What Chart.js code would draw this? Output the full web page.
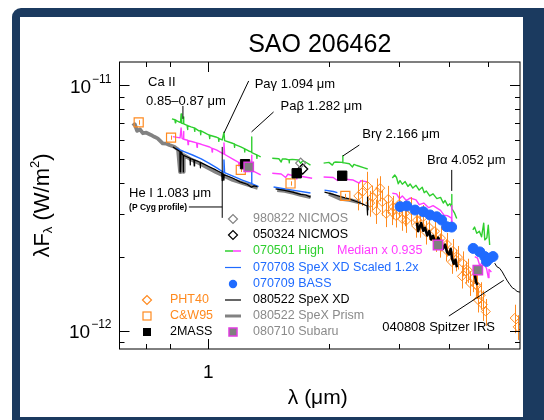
<!DOCTYPE html>
<html lang="en">
<head>
<meta charset="UTF-8">
<title>SAO 206462</title>
<script src="https://cdn.jsdelivr.net/npm/chart.js"></script>
<style>
  body { margin: 0; background: #fff; }
  #wrap { position: relative; width: 544px; height: 420px; overflow: hidden; }
  #frame { position: absolute; left: 12px; top: 8px; width: 560px; height: 440px; background: #1b3a5f; border-radius: 9px; }
  #panel { position: absolute; left: 20px; top: 17px; width: 503px; height: 400px; background: #fff; }
  #sed { position: absolute; left: 0; top: 0; }
</style>
</head>
<body>
<div id="wrap">
  <div id="frame"></div>
  <div id="panel"></div>
  <canvas id="sed" width="544" height="420"></canvas>
</div>
<script>
// all fluxes are in units of 1e-12 W/m^2, wavelengths in micron
const FLUX_UNIT = 1e-12;

// 070501 High (green), one array per atmospheric window
const highSegs = [
  [[0.811,7.31],[0.825,7.25],[0.827,7.05],[0.829,7.23],[0.835,7.18],[0.852,7.06],[0.855,7.65],[0.858,7.02],[0.866,7.00],[0.867,7.45],[0.869,6.98],[0.885,6.88],[0.887,6.62],[0.889,6.86],[0.905,6.78],[0.922,6.72],[0.924,6.50],[0.926,6.70],[0.947,6.53],[0.955,6.55],[0.957,6.30],[0.959,6.53],[0.991,6.35],[1.005,6.28],[1.007,6.08],[1.009,6.27],[1.044,6.17],[1.06,6.10],[1.062,5.92],[1.064,6.08],[1.083,6.00],[1.094,6.45],[1.098,5.96],[1.144,5.83],[1.16,5.78],[1.162,5.60],[1.164,5.76],[1.205,5.62],[1.23,5.53],[1.232,5.36],[1.234,5.52],[1.261,5.41],[1.280,5.36],[1.282,6.17],[1.285,5.33],[1.30,5.28],[1.32,5.22],[1.322,5.05],[1.324,5.21],[1.351,5.12]],
  [[1.444,5.05],[1.50,5.03],[1.52,4.88],[1.53,5.02],[1.559,5.02],[1.59,4.98],[1.592,4.84],[1.594,4.98],[1.62,5.00],[1.679,4.97],[1.70,4.82],[1.72,4.93],[1.748,4.88],[1.799,4.74]],
  [[1.94,4.83],[2.00,4.86],[2.04,4.74],[2.06,4.86],[2.08,4.88],[2.164,4.86],[2.166,5.18],[2.168,4.85],[2.25,4.80],[2.29,4.66],[2.31,4.77],[2.35,4.72],[2.45,4.62],[2.50,4.57]],
  [[2.88,4.20],[2.92,4.32],[2.95,4.22],[2.98,3.98],[3.01,4.10],[3.05,3.96],[3.10,4.06],[3.15,3.88],[3.19,3.97],[3.24,3.82],[3.30,3.92],[3.36,3.75],[3.42,3.85],[3.46,3.66],[3.50,3.72],[3.57,3.55],[3.64,3.62],[3.72,3.46],[3.80,3.50],[3.86,3.32],[3.90,3.40],[3.96,3.24],[4.01,3.30],[4.048,3.20],[4.052,3.60],[4.056,3.15],[4.12,3.02],[4.17,2.87]],
  [[4.575,2.58],[4.62,2.65],[4.68,2.50],[4.75,2.55],[4.81,2.42],[4.87,2.75],[4.90,2.35],[4.96,2.40],[5.00,2.70],[5.04,2.24]]
];

// Median x 0.935 (magenta)
const medianSegs = [
  [[0.815,6.19],[0.850,6.12],[0.855,6.71],[0.860,6.09],[0.866,6.05],[0.867,6.50],[0.869,6.04],[0.888,5.98],[0.890,5.74],[0.892,5.96],[0.913,5.90],[0.935,5.84],[0.937,5.60],[0.939,5.82],[0.96,5.76],[1.003,5.63],[1.02,5.55],[1.022,5.36],[1.024,5.54],[1.05,5.45],[1.090,5.27],[1.094,5.83],[1.098,5.24],[1.105,5.21],[1.16,4.98],[1.19,4.86],[1.192,4.70],[1.194,4.85],[1.216,4.74],[1.250,4.64],[1.252,4.48],[1.254,4.63],[1.280,4.53],[1.282,5.20],[1.285,4.51],[1.351,4.32]],
  [[1.444,4.39],[1.52,4.36],[1.56,4.22],[1.58,4.35],[1.604,4.32],[1.66,4.30],[1.662,4.16],[1.664,4.29],[1.70,4.27],[1.816,4.19]],
  [[1.94,4.24],[2.05,4.22],[2.10,4.10],[2.12,4.20],[2.164,4.17],[2.166,4.40],[2.168,4.16],[2.30,4.12],[2.38,4.00],[2.40,4.09],[2.50,4.05]],
  [[2.88,3.64],[2.95,3.62],[3.00,3.46],[3.05,3.55],[3.12,3.40],[3.19,3.48],[3.30,3.42],[3.36,3.27],[3.45,3.32],[3.55,3.18],[3.64,3.24],[3.80,3.10],[3.88,2.96],[3.95,2.95],[4.048,2.88],[4.052,3.24],[4.056,2.84],[4.057,2.55],[4.062,2.82]],
  [[4.627,2.01],[4.70,1.98],[4.76,1.85],[4.845,1.91],[4.95,1.80],[5.00,1.65],[5.02,1.78],[5.09,1.74]]
];

// 070708 SpeX XD scaled 1.2x (blue line)
const scaledSegs = [
  [[0.830,5.56],[0.870,5.38],[0.913,5.21],[0.96,5.02],[1.003,4.83],[1.05,4.62],[1.090,4.43],[1.094,4.97],[1.098,4.41],[1.105,4.40],[1.16,4.25],[1.216,4.12],[1.280,3.99],[1.282,4.61],[1.285,3.98],[1.335,3.87]],
  [[1.455,3.86],[1.623,3.75],[1.799,3.65]],
  [[1.95,3.75],[2.05,3.70],[2.10,3.66]]
];

// 080522 SpeX XD (black line)
const spexSegs = [
  [[0.816,5.62],[0.84,5.45],[0.849,5.38],[0.850,4.45],[0.851,5.37],[0.853,5.36],[0.854,4.50],[0.855,5.35],[0.863,5.21],[0.865,5.20],[0.866,4.45],[0.867,5.19],[0.88,5.14],[0.90,5.05],[0.901,4.75],[0.902,5.04],[0.92,4.98],[0.922,4.70],[0.924,4.97],[0.947,4.89],[0.954,4.87],[0.955,4.62],[0.956,4.86],[1.005,4.67],[1.044,4.53],[1.08,4.40],[1.083,4.10],[1.086,4.38],[1.093,4.33],[1.094,4.12],[1.095,4.33],[1.149,4.20],[1.20,4.05],[1.25,3.96],[1.282,3.85],[1.30,3.90],[1.326,3.87]],
  [[1.472,3.79],[1.55,3.74],[1.623,3.68],[1.70,3.60],[1.75,3.58],[1.80,3.51]],
  [[1.95,3.68],[2.05,3.60],[2.15,3.52],[2.25,3.45],[2.35,3.36],[2.45,3.27],[2.49,3.23],[2.495,2.97],[2.50,3.51],[2.505,3.10]],
  [[3.32,2.76],[3.34,2.55],[3.36,2.62],[3.40,2.75],[3.44,2.56],[3.475,2.63],[3.52,2.45],[3.56,2.55],[3.60,2.36],[3.639,2.44],[3.70,2.26],[3.75,2.40],[3.787,2.30],[3.85,2.16],[3.90,2.25],[3.943,2.10],[3.99,2.05],[4.03,2.16],[4.057,1.98],[4.10,1.88],[4.14,1.95],[4.174,1.82]],
  [[4.63,1.69],[4.66,1.58],[4.70,1.54]]
];

// 080522 SpeX Prism (thick grey)
const prismSegs = [
  [[0.648,6.84],[0.655,6.95],[0.664,6.53],[0.675,6.62],[0.686,6.39],[0.70,6.42],[0.719,6.29],[0.733,6.18],[0.747,6.09],[0.758,5.95],[0.769,5.81],[0.785,5.80],[0.799,5.72],[0.822,5.63],[0.840,5.48],[0.850,4.44],[0.852,5.38],[0.854,4.55],[0.856,5.35],[0.866,4.45],[0.868,5.20],[0.90,5.02],[0.947,4.83],[1.044,4.44],[1.151,4.12],[1.328,3.83]],
  [[1.486,3.75],[1.55,3.72],[1.632,3.65],[1.70,3.58],[1.80,3.51]],
  [[2.00,3.62],[2.14,3.45],[2.25,3.42],[2.40,3.33]]
];

// 040808 Spitzer IRS
const irsSegs = [
  [[5.189,1.89],[5.25,1.83],[5.34,1.80],[5.42,1.74],[5.495,1.67],[5.58,1.60],[5.655,1.55],[5.74,1.50],[5.819,1.48],[5.90,1.45],[5.99,1.44],[6.1,1.40]]
];

// 070709 BASS
const bassWl   = [3.012,3.13,3.282,3.441,3.576,3.716,3.824,3.936,4.05,4.584,4.762,4.90,4.95,5.042,5.138];
const bassFlux = [3.21,3.23,3.11,3.06,2.97,2.92,2.83,2.66,2.65,2.17,2.10,2.01,1.92,1.98,2.01];

// 080710 Subaru
const subaruWl   = [1.261,3.745,4.708];
const subaruFlux = [4.66,2.24,1.77];

// 2MASS
const twomassWl   = [1.235,1.662,2.159];
const twomassFlux = [4.78,4.39,4.29];

// NICMOS
const nic98Wl = [1.70];
const nic98Flux = [4.83];
const nic05Wl = [1.72];
const nic05Flux = [4.57];

// C&W95
const cwWl   = [0.670,0.807,1.205,1.604,2.198];
const cwFlux = [7.07,6.13,4.53,3.99,3.55];
const cwErr  = [0.15,0.12,0.09,0.08,0.07];

// PHT40
const phtWl   = [2.423,2.494,2.566,2.640,2.717,2.812,2.894,2.995,3.099,3.208,3.320,3.437,3.556,3.680,3.809,3.943,4.080,4.200,4.321,4.446,4.575,4.682,4.790,4.845,2.626,2.780,2.944,3.117,3.302,3.495,3.703,3.920,4.152,4.396,4.655,5.819,5.92,2.368,2.536,2.686,2.877,3.047,3.377,3.787,4.057,4.297,4.497,4.708,4.929];
const phtFlux = [3.68,3.90,3.51,3.68,3.35,3.45,3.20,3.29,3.02,3.11,2.83,2.91,2.65,2.55,2.39,2.26,2.12,2.00,1.89,1.77,1.64,1.53,1.40,1.28,3.08,3.00,2.94,2.81,2.68,2.53,2.35,2.14,1.95,1.74,1.54,1.13,1.04,3.55,3.32,3.82,3.05,2.86,2.70,2.24,1.91,1.67,1.57,1.34,1.20];
const phtErr  = [0.45,0.55,0.40,0.50,0.40,0.45,0.35,0.40,0.35,0.40,0.30,0.35,0.30,0.30,0.28,0.25,0.25,0.22,0.22,0.20,0.20,0.18,0.18,0.18,0.35,0.35,0.30,0.30,0.28,0.28,0.25,0.22,0.20,0.18,0.18,0.15,0.12,0.45,0.40,0.45,0.35,0.30,0.30,0.25,0.20,0.18,0.18,0.15,0.15];

// axes
const xTicks = [0.7, 0.8, 1, 2, 3, 4, 5];
const yTicks = [0.9, 1, 2, 3, 4, 5, 6, 7, 8, 9, 10];
const xRange = [0.6, 6.0];
const yRange = [0.845, 12.46];

// text annotations: label, wavelength, flux
const notes = [
  ['Ca II', 0.707, 10.33],
  ['0.85\u20130.87 \u03bcm', 0.699, 8.65],
  ['Pa\u03b3 1.094 \u03bcm', 1.305, 10.14],
  ['Pa\u03b2 1.282 \u03bcm', 1.515, 8.25],
  ['Br\u03b3 2.166 \u03bcm', 2.423, 6.29],
  ['Br\u03b1 4.052 \u03bcm', 3.516, 4.97],
  ['He I 1.083 \u03bcm', 0.634, 3.65],
  ['040808 Spitzer IRS', 2.717, 1.038]
];
// pointer lines: wl1, flux1, wl2, flux2
const pointers = [
  [0.864, 8.25, 0.864, 7.31],
  [1.261, 10.43, 1.094, 6.40],
  [1.455, 7.80, 1.282, 6.47],
  [2.382, 5.72, 2.166, 5.16],
  [4.052, 4.53, 4.052, 3.72],
  [1.083, 5.62, 1.083, 2.89],
  [0.894, 3.20, 1.083, 3.20],
  [3.987, 1.151, 5.465, 1.61]
];

const FONT = '"Liberation Sans", Arial, Helvetica, sans-serif';
const GREEN = '#2fcf2f', MAGENTA = '#ff3cff', BLUE = '#1f6bff', ORANGE = '#ff8a1f';
const GRAY = '#828282', GRAYTXT = '#8a8a8a';

function segPoints(segs) {
  const out = [];
  segs.forEach(function (seg, i) {
    if (i > 0) out.push({ x: seg[0][0], y: null });
    seg.forEach(function (p) { out.push({ x: p[0], y: p[1] * FLUX_UNIT }); });
  });
  return out;
}
function markPoints(wl, fl) {
  return wl.map(function (w, i) { return { x: w, y: fl[i] * FLUX_UNIT }; });
}
function spectrum(label, segs, color, width) {
  return { label: label, data: segPoints(segs), showLine: true, borderColor: color, borderWidth: width,
    pointRadius: 0, spanGaps: false, tension: 0, borderJoinStyle: 'round' };
}
function symbols(label, wl, fl, style, r, fill, edge, bw) {
  return { label: label, data: markPoints(wl, fl), showLine: false, pointStyle: style, pointRadius: r,
    backgroundColor: fill, borderColor: edge, pointBorderWidth: bw, borderWidth: bw };
}

const spex = spectrum('080522 SpeX XD', spexSegs, '#000', 1.2);
spex.segment = { borderWidth: function (c) { return c.p0.parsed.x > 3 ? 2.6 : 1.2; } };

const pht = symbols('PHT40', phtWl, phtFlux, 'rectRot', 4.5, 'rgba(0,0,0,0)', ORANGE, 1);
pht.errors = phtErr;
const cw = symbols('C&W95', cwWl, cwFlux, 'rect', 6.4, 'rgba(0,0,0,0)', ORANGE, 1.2);
cw.errors = cwErr;

// first dataset is drawn on top
const datasets = [
  symbols('080710 Subaru', subaruWl, subaruFlux, 'rect', 6.6, '#7f7f7f', '#e03ce0', 1.5),
  symbols('2MASS', twomassWl, twomassFlux, 'rect', 6.6, '#000', '#000', 1),
  symbols('980822 NICMOS', nic98Wl, nic98Flux, 'rectRot', 5, 'rgba(255,255,255,0)', GRAY, 1.2),
  symbols('050324 NICMOS', nic05Wl, nic05Flux, 'rectRot', 5, 'rgba(255,255,255,0)', '#000', 1.3),
  cw,
  symbols('070709 BASS', bassWl, bassFlux, 'circle', 5, BLUE, BLUE, 1),
  spex,
  pht,
  spectrum('070708 SpeX XD Scaled 1.2x', scaledSegs, BLUE, 1.4),
  spectrum('Median x 0.935', medianSegs, MAGENTA, 1.4),
  spectrum('070501 High', highSegs, GREEN, 1.4),
  spectrum('080522 SpeX Prism', prismSegs, GRAY, 3.8),
  spectrum('040808 Spitzer IRS', irsSegs, '#000', 1)
];

function drawPower(ctx, exp, xRight, yMid) {
  ctx.textBaseline = 'middle';
  ctx.textAlign = 'left';
  ctx.font = '12px ' + FONT;
  const w2 = ctx.measureText(exp).width;
  ctx.font = '19px ' + FONT;
  const w1 = ctx.measureText('10').width;
  ctx.fillText('10', xRight - w2 - w1 - 1, yMid + 2);
  ctx.font = '12px ' + FONT;
  ctx.fillText(exp, xRight - w2, yMid - 6);
}

function legendMark(ctx, kind, x, y) {
  ctx.save();
  ctx.lineWidth = 1.2;
  if (kind === 'dGray' || kind === 'dBlack' || kind === 'dOrange') {
    ctx.strokeStyle = kind === 'dGray' ? GRAY : (kind === 'dBlack' ? '#000' : ORANGE);
    ctx.beginPath();
    ctx.moveTo(x - 4.5, y); ctx.lineTo(x, y - 4.5); ctx.lineTo(x + 4.5, y); ctx.lineTo(x, y + 4.5); ctx.closePath();
    ctx.stroke();
  } else if (kind === 'twoLine') {
    ctx.lineWidth = 1.5;
    ctx.strokeStyle = GREEN; ctx.beginPath(); ctx.moveTo(x - 8, y); ctx.lineTo(x, y); ctx.stroke();
    ctx.strokeStyle = MAGENTA; ctx.beginPath(); ctx.moveTo(x, y); ctx.lineTo(x + 8, y); ctx.stroke();
  } else if (kind === 'blueLine' || kind === 'blackLine' || kind === 'grayLine') {
    ctx.strokeStyle = kind === 'blueLine' ? BLUE : (kind === 'blackLine' ? '#000' : GRAY);
    ctx.lineWidth = kind === 'grayLine' ? 3 : 1.2;
    ctx.beginPath(); ctx.moveTo(x - 8, y); ctx.lineTo(x + 8, y); ctx.stroke();
  } else if (kind === 'dot') {
    ctx.fillStyle = BLUE; ctx.beginPath(); ctx.arc(x, y, 4.2, 0, Math.PI * 2); ctx.fill();
  } else if (kind === 'sqSubaru') {
    ctx.fillStyle = '#7f7f7f'; ctx.strokeStyle = '#e03ce0'; ctx.lineWidth = 1.5;
    ctx.fillRect(x - 4, y - 4, 8, 8); ctx.strokeRect(x - 4, y - 4, 8, 8);
  } else if (kind === 'sqOrange') {
    ctx.strokeStyle = ORANGE; ctx.strokeRect(x - 4, y - 4, 8, 8);
  } else if (kind === 'sqBlack') {
    ctx.fillStyle = '#000'; ctx.fillRect(x - 4, y - 4, 8, 8);
  }
  ctx.restore();
}

const sedDecor = {
  id: 'sedDecor',
  beforeDatasetDraw(chart, args) {
    const ds = chart.data.datasets[args.index];
    if (!ds.errors) return;
    const ctx = chart.ctx, x = chart.scales.x, y = chart.scales.y, a = chart.chartArea;
    ctx.save();
    ctx.beginPath(); ctx.rect(a.left, a.top, a.right - a.left, a.bottom - a.top); ctx.clip();
    ctx.strokeStyle = ds.borderColor; ctx.lineWidth = 1;
    ds.data.forEach(function (p, i) {
      const e = ds.errors[i] * FLUX_UNIT;
      const px = Math.round(x.getPixelForValue(p.x)) + 0.5;
      ctx.beginPath();
      ctx.moveTo(px, y.getPixelForValue(p.y + e));
      ctx.lineTo(px, y.getPixelForValue(p.y - e));
      ctx.stroke();
    });
    ctx.restore();
  },
  afterDraw(chart) {
    const ctx = chart.ctx, x = chart.scales.x, y = chart.scales.y, a = chart.chartArea;
    ctx.save();
    // frame and ticks on all four sides
    ctx.strokeStyle = '#000'; ctx.lineWidth = 1;
    ctx.strokeRect(a.left, a.top, a.right - a.left, a.bottom - a.top);
    ctx.beginPath();
    xTicks.forEach(function (v) {
      const px = Math.round(x.getPixelForValue(v)) + 0.5, len = v === 1 ? 10 : 5;
      ctx.moveTo(px, a.bottom); ctx.lineTo(px, a.bottom - len);
      ctx.moveTo(px, a.top); ctx.lineTo(px, a.top + len);
    });
    yTicks.forEach(function (v) {
      const py = Math.round(y.getPixelForValue(v * FLUX_UNIT)) + 0.5, len = (v === 1 || v === 10) ? 10 : 5;
      ctx.moveTo(a.left, py); ctx.lineTo(a.left + len, py);
      ctx.moveTo(a.right, py); ctx.lineTo(a.right - len, py);
    });
    ctx.stroke();

    // tick labels
    ctx.fillStyle = '#000';
    ctx.font = '19px ' + FONT; ctx.textAlign = 'center'; ctx.textBaseline = 'middle';
    ctx.fillText('1', x.getPixelForValue(1), a.bottom + 24);
    drawPower(ctx, '\u221211', a.left - 8, y.getPixelForValue(10 * FLUX_UNIT));
    drawPower(ctx, '\u221212', a.left - 8, y.getPixelForValue(1 * FLUX_UNIT));

    // title and axis titles
    ctx.textAlign = 'center'; ctx.textBaseline = 'middle';
    ctx.font = '25px ' + FONT;
    ctx.fillText('SAO 206462', (a.left + a.right) / 2, 45);
    ctx.font = '21px ' + FONT;
    ctx.fillText('\u03bb (\u03bcm)', (a.left + a.right) / 2 - 2, a.bottom + 49);

    ctx.save();
    ctx.translate(43, (a.top + a.bottom) / 2);
    ctx.rotate(-Math.PI / 2);
    const parts = [['\u03bbF', 22, 0], ['\u03bb', 13, 5], [' (W/m', 22, 0], ['2', 13, -8], [')', 22, 0]];
    let total = 0;
    parts.forEach(function (p) { ctx.font = p[1] + 'px ' + FONT; total += ctx.measureText(p[0]).width; });
    let cx = -total / 2;
    ctx.textAlign = 'left';
    parts.forEach(function (p) {
      ctx.font = p[1] + 'px ' + FONT;
      ctx.fillText(p[0], cx, p[2]);
      cx += ctx.measureText(p[0]).width;
    });
    ctx.restore();

    // annotations
    ctx.textAlign = 'left'; ctx.textBaseline = 'middle';
    ctx.font = '13px ' + FONT;
    notes.forEach(function (n) {
      ctx.fillText(n[0], x.getPixelForValue(n[1]), y.getPixelForValue(n[2] * FLUX_UNIT));
    });
    ctx.font = 'bold 8.5px ' + FONT;
    ctx.fillText('(P Cyg profile)', x.getPixelForValue(0.634), y.getPixelForValue(3.17 * FLUX_UNIT));
    ctx.beginPath();
    pointers.forEach(function (p) {
      ctx.moveTo(x.getPixelForValue(p[0]), y.getPixelForValue(p[1] * FLUX_UNIT));
      ctx.lineTo(x.getPixelForValue(p[2]), y.getPixelForValue(p[3] * FLUX_UNIT));
    });
    ctx.lineWidth = 1; ctx.strokeStyle = '#000'; ctx.stroke();

    // legend
    ctx.font = '12.5px ' + FONT;
    const rows = [157, 173, 189, 205.5, 222, 238, 254, 270];
    const mx = a.left + 113.5, tx = a.left + 133.5;
    const col2 = [
      ['dGray', '980822 NICMOS', GRAYTXT],
      ['dBlack', '050324 NICMOS', '#000'],
      ['twoLine', '070501 High', GREEN],
      ['blueLine', '070708 SpeX XD Scaled 1.2x', BLUE],
      ['dot', '070709 BASS', BLUE],
      ['blackLine', '080522 SpeX XD', '#000'],
      ['grayLine', '080522 SpeX Prism', GRAYTXT],
      ['sqSubaru', '080710 Subaru', GRAYTXT]
    ];
    col2.forEach(function (r, i) {
      const ry = a.top + rows[i];
      legendMark(ctx, r[0], mx, ry);
      ctx.fillStyle = r[2];
      ctx.fillText(r[1], tx, ry);
    });
    ctx.fillStyle = MAGENTA;
    ctx.fillText('Median x 0.935', a.left + 217.5, a.top + rows[2]);
    const col1 = [
      ['dOrange', 'PHT40', ORANGE],
      ['sqOrange', 'C&W95', ORANGE],
      ['sqBlack', '2MASS', '#000']
    ];
    col1.forEach(function (r, i) {
      const ry = a.top + rows[5 + i];
      legendMark(ctx, r[0], a.left + 27.5, ry);
      ctx.fillStyle = r[2];
      ctx.fillText(r[1], a.left + 50.5, ry);
    });
    ctx.restore();
  }
};

new Chart(document.getElementById('sed'), {
  type: 'scatter',
  data: { datasets: datasets },
  options: {
    responsive: false,
    animation: false,
    events: [],
    layout: { padding: { left: 119.5, top: 62, right: 24, bottom: 71 } },
    scales: {
      x: { type: 'logarithmic', min: xRange[0], max: xRange[1], bounds: 'data', display: false },
      y: { type: 'logarithmic', min: yRange[0] * FLUX_UNIT, max: yRange[1] * FLUX_UNIT, bounds: 'data', display: false }
    },
    plugins: { legend: { display: false }, tooltip: { enabled: false } }
  },
  plugins: [sedDecor]
});
</script>
</body>
</html>
